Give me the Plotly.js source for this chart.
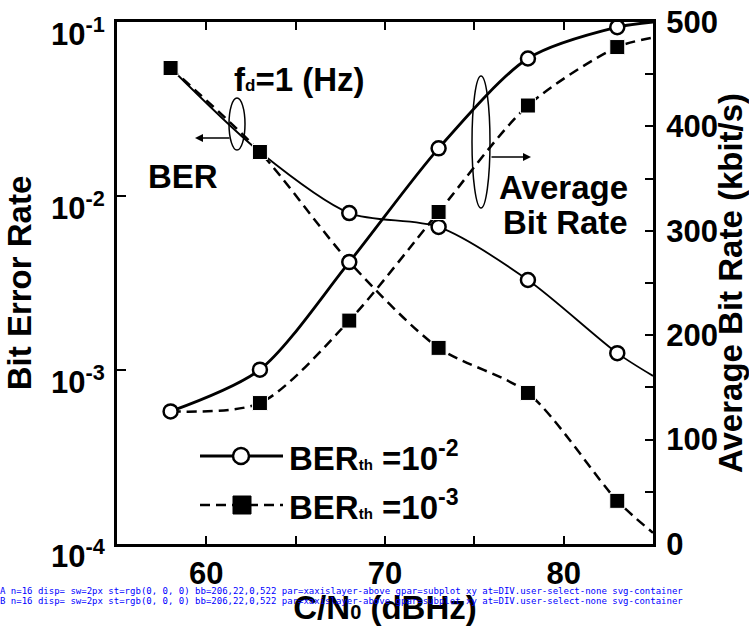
<!DOCTYPE html>
<html>
<head>
<meta charset="utf-8">
<script src="https://cdn.plot.ly/plotly-3.0.1.min.js"></script>
<style>html,body{margin:0;padding:0;background:#fff;}#chart{width:749px;height:626px;}#dbg{position:absolute;left:0;top:586px;font:9px monospace;color:#00f;white-space:pre;}</style>
</head>
<body>
<div id="chart"></div>
<div id="dbg"></div>
<script>
// C/N0 (dBHz); last entry is where the curves meet the right frame
const cn0 = [58, 63, 68, 73, 78, 83, 85];
// Bit error rate (left, log axis)
const berTh2 = [0.0544, 0.0179, 0.00798, 0.00664, 0.00329, 0.00125, 0.000925];
const berTh3 = [0.0544, 0.0179, 0.00418, 0.00134, 0.000738, 0.000177, 0.000116];
// Average bit rate, kbit/s (right axis)
const rateTh2 = [127, 167, 270, 379, 465, 495, 500];
const rateTh3 = [127, 135, 214, 318, 420, 476, 485];
// ticks and tick labels
const xTickVals = [60, 65, 70, 75, 80];
const xTickText = ['60', '', '70', '', '80'];
const berTickVals = [1e-4, 1e-3, 1e-2, 1e-1];
const berTickText = ['10<sup>-4</sup>', '10<sup>-3</sup>', '10<sup>-2</sup>', '10<sup>-1</sup>'];
const rateTickVals = [0, 50, 100, 150, 200, 250, 300, 350, 400, 450, 500];
const rateTickText = ['0', '', '100', '', '200', '', '300', '', '400', '', '500'];
const legendNames = ['BER<span style="font-size:15px">th</span> =10<sup>-2</sup>',
                     'BER<span style="font-size:15px">th</span> =10<sup>-3</sup>'];

const FONT = 'Liberation Sans, Arial, Helvetica, sans-serif';
const dashPat = '10px,6px';
const traces = [
  { x: cn0, y: berTh2, mode: 'lines+markers',
    line: { color: '#000', width: 1.8, shape: 'spline', smoothing: 0.8 },
    marker: { symbol: 'circle', opacity: 1, size: [0, 0, 14, 14, 14, 14, 0], color: '#fff',
              line: { color: '#000', width: [0, 0, 2.5, 2.5, 2.5, 2.5, 0] } } },
  { x: cn0, y: berTh3, mode: 'lines+markers',
    line: { color: '#000', width: 2.5, dash: dashPat, shape: 'spline', smoothing: 0.8 },
    marker: { symbol: 'square', opacity: 1, size: [15, 15, 0, 15, 15, 15, 0], color: '#000' } },
  { x: cn0, y: rateTh3, yaxis: 'y2', mode: 'lines+markers',
    line: { color: '#000', width: 2.5, dash: dashPat, shape: 'spline', smoothing: 0.8 },
    marker: { symbol: 'square', opacity: 1, size: [0, 15, 15, 15, 15, 15, 0], color: '#000' } },
  { x: cn0, y: rateTh2, yaxis: 'y2', mode: 'lines+markers',
    line: { color: '#000', width: 2.8, shape: 'spline', smoothing: 0.8 },
    marker: { symbol: 'circle', opacity: 1, size: [14, 14, 14, 14, 14, 14, 0], color: '#fff',
              line: { color: '#000', width: [2.5, 2.5, 2.5, 2.5, 2.5, 2.5, 0] } } }
];

const L = 117, R = 653, T = 22, B = 544;
const px = v => (v - L) / (R - L);
const py = v => (B - v) / (B - T);
const tf = () => ({ family: FONT, size: 33, color: '#000', weight: 'bold' });

const shapes = [];
const annotations = [];
const legRows = [456, 505];
shapes.push({ type: 'line', xref: 'paper', yref: 'paper', x0: px(200), x1: px(283), y0: py(legRows[0]), y1: py(legRows[0]),
  line: { color: '#000', width: 2.8 } });
shapes.push({ type: 'circle', xref: 'paper', yref: 'paper', xsizemode: 'pixel', ysizemode: 'pixel',
  xanchor: px(241), yanchor: py(legRows[0]), x0: -8, x1: 8, y0: -8, y1: 8,
  fillcolor: '#fff', line: { color: '#000', width: 2.5 } });
shapes.push({ type: 'line', xref: 'paper', yref: 'paper', x0: px(200), x1: px(283), y0: py(legRows[1]), y1: py(legRows[1]),
  line: { color: '#000', width: 2.5, dash: dashPat } });
shapes.push({ type: 'rect', xref: 'paper', yref: 'paper', xsizemode: 'pixel', ysizemode: 'pixel',
  xanchor: px(242), yanchor: py(legRows[1]), x0: -9, x1: 9, y0: -9, y1: 9,
  fillcolor: '#000', line: { color: '#000', width: 1 } });
legendNames.forEach((t, i) => annotations.push({ xref: 'paper', yref: 'paper', x: px(287), y: py(legRows[i]),
  xanchor: 'left', yanchor: 'middle', showarrow: false, text: t, font: tf() }));
shapes.push({ type: 'circle', xref: 'paper', yref: 'paper', xsizemode: 'pixel', ysizemode: 'pixel',
  xanchor: px(237), yanchor: py(124), x0: -8, x1: 8, y0: -26, y1: 26, line: { color: '#000', width: 1.5 } });
shapes.push({ type: 'circle', xref: 'paper', yref: 'paper', xsizemode: 'pixel', ysizemode: 'pixel',
  xanchor: px(481), yanchor: py(142), x0: -9, x1: 9, y0: -66, y1: 66, line: { color: '#000', width: 1.5 } });
annotations.push({ xref: 'paper', yref: 'paper', x: px(195), y: py(138), ax: 36, ay: 0, text: '',
  showarrow: true, arrowhead: 2, arrowsize: 1, arrowwidth: 1.6, arrowcolor: '#000' });
annotations.push({ xref: 'paper', yref: 'paper', x: px(531), y: py(157), ax: -41, ay: 0, text: '',
  showarrow: true, arrowhead: 2, arrowsize: 1, arrowwidth: 1.6, arrowcolor: '#000' });
annotations.push({ xref: 'paper', yref: 'paper', x: px(232), y: py(79), xanchor: 'left', yanchor: 'middle',
  showarrow: false, text: 'f<span style="font-size:17px">d</span>=1 (Hz)', font: tf() });
annotations.push({ xref: 'paper', yref: 'paper', x: px(146), y: py(177), xanchor: 'left', yanchor: 'middle',
  showarrow: false, text: 'BER', font: tf() });
annotations.push({ xref: 'paper', yref: 'paper', x: px(630), y: py(187), xanchor: 'right', yanchor: 'middle',
  showarrow: false, text: 'Average', font: tf() });
annotations.push({ xref: 'paper', yref: 'paper', x: px(630), y: py(222), xanchor: 'right', yanchor: 'middle',
  showarrow: false, text: 'Bit Rate', font: tf() });

const axisCommon = () => ({ showline: true, linecolor: '#000', linewidth: 3, showgrid: false, zeroline: false,
  ticks: 'inside', tickcolor: '#000', tickwidth: 2, automargin: false, ticklabeloverflow: 'allow',
  tickfont: { family: FONT, size: 31, color: '#000', weight: 'bold' } });
const titleFont = () => ({ family: FONT, size: 33, color: '#000', weight: 'bold' });

const layout = {
  width: 749, height: 626,
  margin: { l: L, r: 749 - R, t: T, b: 626 - B, pad: 0 },
  paper_bgcolor: '#fff', plot_bgcolor: '#fff',
  showlegend: false,
  xaxis: Object.assign(axisCommon(), {
    range: [55, 85], tickvals: xTickVals, ticktext: xTickText, ticklen: 8,
    mirror: 'ticks', ticklabelstandoff: 0,
    title: { text: 'C/N<span style="font-size:20px">0</span> (dBHz)', font: titleFont(), standoff: 25 }
  }),
  yaxis: Object.assign(axisCommon(), {
    type: 'log', range: [-4, -1], tickvals: berTickVals, ticktext: berTickText,
    ticklen: 9, ticklabelshift: 12, ticklabelstandoff: 3,
    title: { text: 'Bit Error Rate', font: titleFont(), standoff: 10 }
  }),
  yaxis2: Object.assign(axisCommon(), {
    overlaying: 'y', side: 'right', range: [0, 500], tickvals: rateTickVals, ticktext: rateTickText,
    ticklen: 8, ticklabelstandoff: 4,
    title: { text: 'Average Bit Rate (kbit/s)', font: titleFont(), standoff: 2 }
  }),
  shapes: shapes,
  annotations: annotations
};

function diag(tag) {
  const t = document.querySelectorAll('path.xtick, path.ytick, path.y2tick');
  let s = tag + ' n=' + t.length;
  if (t.length) {
    const r = t[0].getBoundingClientRect();
    s += ' disp=' + t[0].style.display + ' sw=' + t[0].style.strokeWidth + ' st=' + t[0].style.stroke + ' bb=' + [r.x, r.y, r.width, r.height].map(Math.round) + ' par=' + t[0].parentNode.getAttribute('class') + ' gpar=' + t[0].parentNode.parentNode.getAttribute('class');
    const e = document.elementFromPoint(385, 541);
    s += ' at=' + e.tagName + '.' + (e.getAttribute('class') || '');
  }
  document.getElementById('dbg').textContent += s + '\n';
}

Plotly.newPlot('chart', traces, layout, { displayModeBar: false, staticPlot: true }).then(gd => {
  diag('A');
  return Plotly.relayout(gd, { 'xaxis.ticklen': 8 }).then(() => diag('B'));
}).catch(e => { document.getElementById('dbg').textContent += 'ERR ' + e + '\n'; });
</script>
</body>
</html>
